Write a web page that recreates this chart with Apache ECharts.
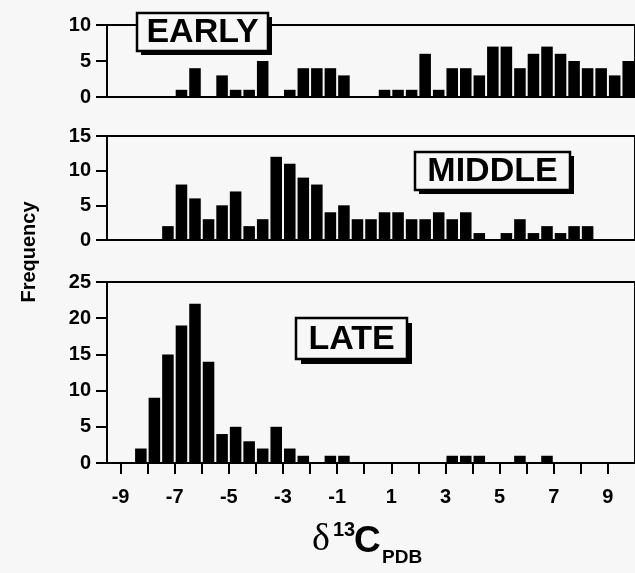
<!DOCTYPE html>
<html>
<head>
<meta charset="utf-8">
<script src="https://cdn.jsdelivr.net/npm/echarts@6/dist/echarts.min.js"></script>
<style>
  html, body { margin:0; padding:0; background:#f7f7f7; }
  #chart { width:635px; height:573px; }
</style>
</head>
<body>
<div id="chart"></div>
<script>
// lower edge of every 0.5 bin
var bins = [-9.5, -9, -8.5, -8, -7.5, -7, -6.5, -6, -5.5, -5, -4.5, -4, -3.5, -3, -2.5, -2, -1.5, -1, -0.5, 0,
            0.5, 1, 1.5, 2, 2.5, 3, 3.5, 4, 4.5, 5, 5.5, 6, 6.5, 7, 7.5, 8, 8.5, 9, 9.5];
var binWidth = 0.5;

var earlyCounts  = [0, 0, 0, 0, 0, 1, 4, 0, 3, 1, 1, 5, 0, 1, 4, 4, 4, 3, 0, 0,
                    1, 1, 1, 6, 1, 4, 4, 3, 7, 7, 4, 6, 7, 6, 5, 4, 4, 3, 5];
var middleCounts = [0, 0, 0, 0, 2, 8, 6, 3, 5, 7, 2, 3, 12, 11, 9, 8, 4, 5, 3, 3,
                    4, 4, 3, 3, 4, 3, 4, 1, 0, 1, 3, 1, 2, 1, 2, 2, 0, 0, 0];
var lateCounts   = [0, 0, 2, 9, 15, 19, 22, 14, 4, 5, 3, 2, 5, 2, 1, 0, 1, 1, 0, 0,
                    0, 0, 0, 0, 0, 1, 1, 1, 0, 0, 1, 0, 1, 0, 0, 0, 0, 0, 0];

var panelNames = ['EARLY', 'MIDDLE', 'LATE'];
var panelMax = [10, 15, 25];
var xTicks = [-9, -8, -7, -6, -5, -4, -3, -2, -1, 0, 1, 2, 3, 4, 5, 6, 7, 8, 9];
var xLabels = [-9, -7, -5, -3, -1, 1, 3, 5, 7, 9];

var FONT = '"Liberation Sans", Arial, sans-serif';
var BG = '#f7f7f7';

// grid pixel layout (top / height per panel)
var grids = [
    {top: 25, height: 72},
    {top: 136, height: 104},
    {top: 282, height: 181}
];

function toData(counts){
    var out = [];
    for (var i = 0; i < bins.length; i++) {
        if (counts[i] > 0) out.push([bins[i], counts[i]]);
    }
    return out;
}

function renderBar(params, api){
    var lo = api.value(0);
    var n = api.value(1);
    var p0 = api.coord([lo, n]);
    var p1 = api.coord([lo + binWidth, 0]);
    return {
        type: 'rect',
        shape: {x: p0[0] + 1, y: p0[1], width: p1[0] - p0[0] - 2, height: p1[1] - p0[1]},
        style: {fill: '#000'}
    };
}

// boxed panel title with drop shadow
function titleBox(text, x, y, w, h, off){
    return {
        type: 'group',
        z: 100,
        children: [
            {type: 'rect', shape: {x: x + off, y: y + off, width: w, height: h}, style: {fill: '#000'}},
            {type: 'rect', shape: {x: x, y: y, width: w, height: h}, style: {fill: BG, stroke: '#000', lineWidth: 2.5}},
            {type: 'text', x: x + w / 2, y: y + h / 2 + 1, style: {
                text: text, font: 'bold 34px ' + FONT, fill: '#000', align: 'center', verticalAlign: 'middle'
            }}
        ]
    };
}

var allCounts = [earlyCounts, middleCounts, lateCounts];
var gridOpt = [], xAxisOpt = [], yAxisOpt = [], seriesOpt = [];

for (var k = 0; k < 3; k++) {
    var last = (k === 2);
    gridOpt.push({
        left: 107, width: 534, top: grids[k].top, height: grids[k].height,
        show: true, borderColor: '#000', borderWidth: 2, backgroundColor: 'transparent'
    });
    xAxisOpt.push({
        type: 'value', gridIndex: k, min: -9.5, max: 10,
        axisLine: {show: true, onZero: false, lineStyle: {color: '#000', width: 2}},
        splitLine: {show: false},
        axisTick: {show: last, inside: false, length: 11, lineStyle: {color: '#000', width: 2}, customValues: xTicks},
        axisLabel: {show: last, customValues: xLabels, margin: 24, color: '#000', fontSize: 20, fontWeight: 'bold', fontFamily: FONT}
    });
    yAxisOpt.push({
        type: 'value', gridIndex: k, min: 0, max: panelMax[k], interval: 5,
        axisLine: {show: true, onZero: false, lineStyle: {color: '#000', width: 2}},
        splitLine: {show: false},
        axisTick: {show: true, inside: false, length: 11, lineStyle: {color: '#000', width: 2}},
        axisLabel: {margin: 16, color: '#000', fontSize: 20, fontWeight: 'bold', fontFamily: FONT}
    });
    seriesOpt.push({
        type: 'custom', name: panelNames[k], xAxisIndex: k, yAxisIndex: k,
        renderItem: renderBar, data: toData(allCounts[k])
    });
}

var chart = echarts.init(document.getElementById('chart'), null, {renderer: 'canvas'});
chart.setOption({
    backgroundColor: BG,
    animation: false,
    grid: gridOpt,
    xAxis: xAxisOpt,
    yAxis: yAxisOpt,
    series: seriesOpt,
    graphic: [
        titleBox('EARLY', 137, 13, 131, 38, 4),
        titleBox('MIDDLE', 415, 152, 155, 38, 4),
        titleBox('LATE', 296, 318, 111, 41, 5),
        {type: 'text', x: 29, y: 252, rotation: Math.PI / 2, style: {
            text: 'Frequency', font: 'bold 20px ' + FONT, fill: '#000', align: 'center', verticalAlign: 'middle'
        }},
        // x axis title: delta 13 C PDB
        {type: 'text', x: 312, y: 540, style: {text: '\u03b4', font: '38px "Liberation Serif", "Times New Roman", serif', fill: '#000', verticalAlign: 'middle'}},
        {type: 'text', x: 333, y: 530, style: {text: '13', font: 'bold 20px ' + FONT, fill: '#000', verticalAlign: 'middle'}},
        {type: 'text', x: 354, y: 542, style: {text: 'C', font: 'bold 37px ' + FONT, fill: '#000', verticalAlign: 'middle'}},
        {type: 'text', x: 382, y: 558, style: {text: 'PDB', font: 'bold 19px ' + FONT, fill: '#000', verticalAlign: 'middle'}}
    ]
});
</script>
</body>
</html>
